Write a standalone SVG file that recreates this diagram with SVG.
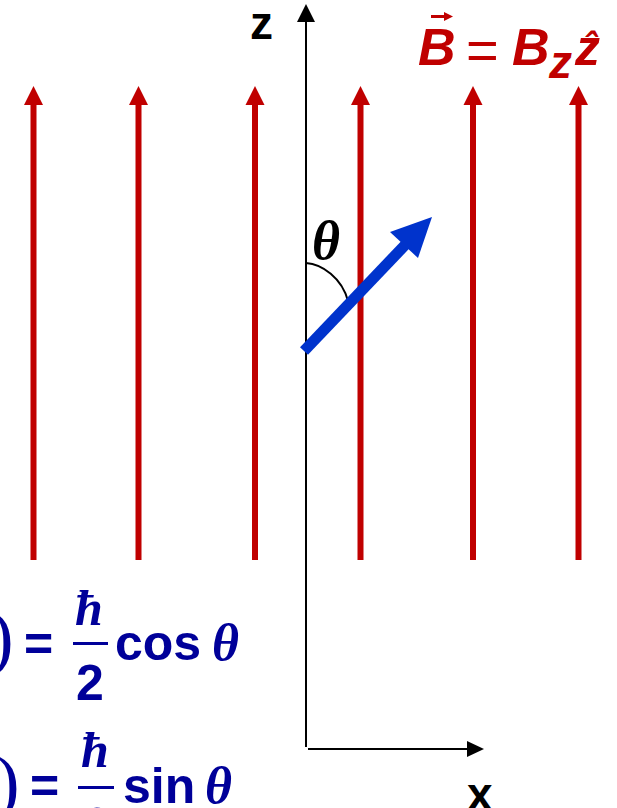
<svg xmlns="http://www.w3.org/2000/svg" width="617" height="808" viewBox="0 0 617 808">
<style>
.field{stroke:#C00000;stroke-width:6;fill:none}
.fieldhead{fill:#C00000}
.axis{stroke:#000;stroke-width:2;fill:none}
.lbl{font-family:"Liberation Sans",Arial,sans-serif;font-weight:bold;fill:#000}
.red{font-family:"Liberation Sans",Arial,sans-serif;font-weight:bold;font-style:italic;fill:#C00000}
.eq{font-family:"Liberation Sans",Arial,sans-serif;font-weight:bold;fill:#000099}
.greek{font-family:"Liberation Serif","Times New Roman",serif;font-style:italic}
</style>
<defs>
<g id="fa">
<line class="field" x1="0" y1="560" x2="0" y2="102"/>
<polygon class="fieldhead" points="0,86 -9.5,105 9.5,105"/>
</g>
</defs>
<rect width="617" height="808" fill="#fff"/>
<g id="field-lines">
<use href="#fa" x="33.5"/>
<use href="#fa" x="138.5"/>
<use href="#fa" x="255"/>
<use href="#fa" x="360.5"/>
<use href="#fa" x="473"/>
<use href="#fa" x="578.5"/>
</g>
<g id="connectors">
<line class="axis" x1="306" y1="747" x2="306" y2="20"/>
<polygon points="306,4 297,22 315,22" fill="#000"/>
<line class="axis" x1="308" y1="749" x2="469" y2="749"/>
<polygon points="484,749 467,741 467,757" fill="#000"/>
<path class="axis" d="M306,263 C322,264 342,278 348,301"/>
</g>
<g id="z-label"><text class="lbl" x="250" y="39" font-size="46">z</text></g>
<g id="x-label"><text class="lbl" x="467" y="810" font-size="46">x</text></g>
<g id="theta-label"><text class="greek" x="312" y="259" font-size="54" font-weight="bold" fill="#000">θ</text></g>
<g id="spin-vector">
<line x1="304" y1="351" x2="407" y2="243" stroke="#0033CC" stroke-width="11"/>
<polygon points="432,217 390,232 418,258" fill="#0033CC"/>
</g>
<g id="B-label">
<text class="red" x="418" y="65" font-size="52">B</text>
<line x1="431" y1="16.5" x2="447" y2="16.5" stroke="#C00000" stroke-width="3"/>
<polygon points="453,16.5 444,12 444,21" fill="#C00000"/>
<text x="466" y="69" font-size="56" font-family="'Liberation Sans',Arial,sans-serif" fill="#C00000">=</text>
<text class="red" x="512" y="65" font-size="52">B</text>
<text class="red" x="549" y="78" font-size="46">z</text>
<text class="red" x="575" y="65" font-size="50">z</text>
<text class="red" x="584" y="58" font-size="36">ˆ</text>
</g>
<g id="eq1">
<text x="-11" y="662" font-size="74" font-family="'Liberation Serif',serif" fill="#000099">)</text>
<text class="eq" x="24" y="661" font-size="50">=</text>
<text class="greek" x="75" y="625" font-size="50" font-weight="bold" fill="#000099">ħ</text>
<line x1="73" y1="643.5" x2="108" y2="643.5" stroke="#000099" stroke-width="3"/>
<text class="eq" x="76" y="700" font-size="50">2</text>
<text class="eq" x="115" y="660" font-size="50">cos</text>
<text class="greek" x="212" y="660" font-size="52" font-weight="bold" fill="#000099">θ</text>
</g>
<g id="eq2">
<text x="-5" y="807" font-size="74" font-family="'Liberation Serif',serif" fill="#000099">)</text>
<text class="eq" x="30" y="803" font-size="50">=</text>
<text class="greek" x="81" y="767" font-size="50" font-weight="bold" fill="#000099">ħ</text>
<line x1="78" y1="787.5" x2="114" y2="787.5" stroke="#000099" stroke-width="3"/>
<text class="eq" x="83" y="843" font-size="50">2</text>
<text class="eq" x="123" y="803" font-size="50">sin</text>
<text class="greek" x="205" y="803" font-size="52" font-weight="bold" fill="#000099">θ</text>
</g>
</svg>
